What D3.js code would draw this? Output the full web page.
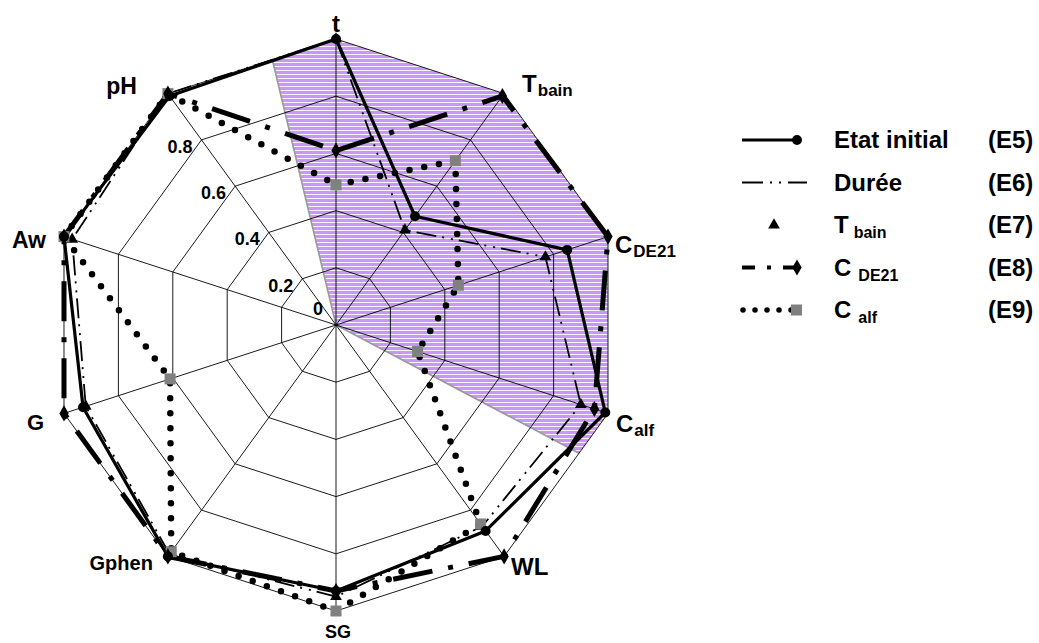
<!DOCTYPE html>
<html><head><meta charset="utf-8">
<script src="https://cdn.jsdelivr.net/npm/d3@7"></script>
<style>
html,body{margin:0;padding:0;background:#fff;}
text{font-family:"Liberation Sans",Arial,Helvetica,sans-serif;font-weight:bold;fill:#000;}
</style></head>
<body>
<svg id="chart" width="1039" height="643"></svg>
<script>
// ---------- data ----------
const axisMain = ["t","T","C","C","WL","SG","Gphen","G","Aw","pH"];
const axisSub  = ["","bain","DE21","alf","","","","","",""];
const ticks = [0, 0.2, 0.4, 0.6, 0.8];
const tickLabels = ["0","0.2","0.4","0.6","0.8"];
const rings = [0.2, 0.4, 0.6, 0.8, 1.0];

const e5 = [1.00, 0.47, 0.85, 0.99, 0.89, 0.93, 1.00, 0.93, 1.00, 0.99]; // Etat initial
const e6 = [1.00, 0.41, 0.77, 0.90, 0.87, 0.95, 0.99, 0.92, 0.97, 1.00]; // Durée
const e7 = [1.00, 0.41, 0.77, 0.90, 0.87, 0.95, 0.99, 0.92, 0.97, 1.00]; // T bain
const e8 = [0.61, 0.99, 1.00, 0.95, 1.00, 0.93, 1.00, 1.00, 1.00, 1.00]; // C DE21
const e9 = [0.49, 0.71, 0.45, 0.30, 0.86, 1.00, 0.98, 0.61, 1.00, 1.00]; // C alf

const legendMain = ["Etat initial","Durée","T","C","C"];
const legendSub  = ["","","bain","DE21","alf"];
const legendCode = ["(E5)","(E6)","(E7)","(E8)","(E9)"];

// shaded sector (in degrees, clockwise from the t axis)
const shadeFrom = -13.5, shadeTo = 117.8;

// ---------- layout ----------
const cx = 336, cy = 325, R = 286;
const n = axisMain.length;
const svg = d3.select("#chart");
const g = svg.append("g").attr("transform", `translate(${cx},${cy})`);

const ang = d3.scaleLinear().domain([0, n]).range([0, 2*Math.PI]);
const rad = d3.scaleLinear().domain([0, 1]).range([0, R]);
const pt = (i, v) => [rad(v)*Math.sin(ang(i)), -rad(v)*Math.cos(ang(i))];

const defs = svg.append("defs");
const pat = defs.append("pattern").attr("id","stripes").attr("width",8).attr("height",4)
  .attr("patternUnits","userSpaceOnUse").attr("patternTransform",`translate(0,${cy})`);
pat.append("rect").attr("width",8).attr("height",4).attr("fill","#C996FC");
pat.append("rect").attr("width",8).attr("height",0.9).attr("fill","#ffffff");

// shaded region
function edgePt(deg) {
  const step = 360/n;
  const k = Math.floor(deg/step);
  const mid = (k + 0.5)*step;
  const rr = R*Math.cos(Math.PI/n)/Math.cos((deg-mid)*Math.PI/180);
  const a = deg*Math.PI/180;
  return [rr*Math.sin(a), -rr*Math.cos(a)];
}
const shadePts = [[0,0], edgePt(shadeFrom)];
for (let i = Math.ceil(shadeFrom/36); i <= Math.floor(shadeTo/36); i++) shadePts.push(pt(i,1));
shadePts.push(edgePt(shadeTo));
g.append("path").attr("d", "M" + shadePts.map(p=>p.join(",")).join("L") + "Z")
  .attr("fill","url(#stripes)").attr("stroke","none");
// grey edges
g.append("path").attr("d", `M${edgePt(shadeFrom)}L0,0L${edgePt(shadeTo)}`)
  .attr("fill","none").attr("stroke","#999").attr("stroke-width",1.6);

// grid
const ringLine = d3.lineRadial().angle((d,i)=>ang(i)).radius(d=>rad(d)).curve(d3.curveLinearClosed);
rings.forEach(v => {
  g.append("path").attr("d", ringLine(d3.range(n).map(()=>v)))
    .attr("fill","none").attr("stroke","#000").attr("stroke-width",0.9);
});
d3.range(n).forEach(i => {
  const p = pt(i,1);
  g.append("line").attr("x1",0).attr("y1",0).attr("x2",p[0]).attr("y2",p[1])
    .attr("stroke","#000").attr("stroke-width",0.9);
});

// tick labels along pH axis
ticks.forEach((v,k) => {
  const p = pt(9, v);
  const isZero = v === 0;
  g.append("text").attr("x", isZero ? -13 : p[0]-9).attr("y", isZero ? -10 : p[1]+13)
    .attr("text-anchor","end").attr("font-size",18).text(tickLabels[k]);
});

// series
const line = d3.lineRadial().angle((d,i)=>ang(i)).radius(d=>rad(d)).curve(d3.curveLinearClosed);
g.append("path").attr("d", line(e9)).attr("fill","none").attr("stroke","#000")
  .attr("stroke-width",6.5).attr("stroke-linecap","round").attr("stroke-dasharray","0,15");
g.append("path").attr("d", line(e6)).attr("fill","none").attr("stroke","#000")
  .attr("stroke-width",1.8).attr("stroke-dasharray","20,6,2,7,2,6");
g.append("path").attr("d", line(e8)).attr("fill","none").attr("stroke","#000")
  .attr("stroke-width",5).attr("stroke-dasharray","40,16,5,16");
g.append("path").attr("d", line(e5)).attr("fill","none").attr("stroke","#000")
  .attr("stroke-width",3.2).attr("stroke-linejoin","round");

// markers
const tri = d3.symbol().type(d3.symbolTriangle).size(60);
const dia = d3.symbol().type(d3.symbolDiamond).size(75);
e7.forEach((v,i)=>{ const p=pt(i,v);
  g.append("path").attr("d",tri()).attr("transform",`translate(${p[0]},${p[1]})`).attr("fill","#000"); });
e9.forEach((v,i)=>{ const p=pt(i,v);
  g.append("rect").attr("x",p[0]-5.5).attr("y",p[1]-5.5).attr("width",11).attr("height",11).attr("fill","#808080"); });
e8.forEach((v,i)=>{ const p=pt(i,v);
  g.append("path").attr("d",dia()).attr("transform",`translate(${p[0]},${p[1]})`).attr("fill","#000"); });
e5.forEach((v,i)=>{ const p=pt(i,v);
  g.append("circle").attr("cx",p[0]).attr("cy",p[1]).attr("r",5).attr("fill","#000"); });

// axis labels
const labelLayout = [
  {dx:0, dy:-7, anchor:"middle", fs:24},
  {dx:18, dy:-2, anchor:"start", fs:24},
  {dx:7, dy:16, anchor:"start", fs:24},
  {dx:8, dy:19, anchor:"start", fs:24},
  {dx:7, dy:19, anchor:"start", fs:24},
  {dx:2, dy:27, anchor:"middle", fs:18},
  {dx:-15, dy:14, anchor:"end", fs:20},
  {dx:-20, dy:17, anchor:"end", fs:22},
  {dx:-18, dy:11, anchor:"end", fs:23},
  {dx:-31, dy:0, anchor:"end", fs:23}
];
axisMain.forEach((m,i)=>{
  const p = pt(i,1), L = labelLayout[i];
  const t = g.append("text").attr("x",p[0]+L.dx).attr("y",p[1]+L.dy)
    .attr("text-anchor",L.anchor).attr("font-size",L.fs);
  t.append("tspan").text(m);
  if (axisSub[i]) t.append("tspan").attr("font-size",17).attr("dy",4).attr("dx",1).text(axisSub[i]);
});

// legend
const lg = svg.append("g");
const ly0 = 140, lstep = 42.5;
legendMain.forEach((m,k)=>{
  const y = ly0 + k*lstep;
  const t = lg.append("text").attr("x",834).attr("y",y+8).attr("font-size",24);
  t.append("tspan").text(m);
  if (legendSub[k]) t.append("tspan").attr("font-size",16).attr("dy",5).attr("dx",legendSub[k]==="bain"?5:7).text(legendSub[k]);
  lg.append("text").attr("x",988).attr("y",y+8).attr("font-size",24).text(legendCode[k]);
});
// E5
lg.append("line").attr("x1",742).attr("x2",797).attr("y1",ly0).attr("y2",ly0).attr("stroke","#000").attr("stroke-width",3.2);
lg.append("circle").attr("cx",797).attr("cy",ly0).attr("r",5).attr("fill","#000");
// E6
lg.append("line").attr("x1",742).attr("x2",807).attr("y1",ly0+lstep).attr("y2",ly0+lstep)
  .attr("stroke","#000").attr("stroke-width",2).attr("stroke-dasharray","21,7,2,7,2,7");
// E7
lg.append("path").attr("d",tri()).attr("transform",`translate(774,${ly0+2*lstep})`).attr("fill","#000");
// E8
lg.append("line").attr("x1",742).attr("x2",797).attr("y1",ly0+3*lstep).attr("y2",ly0+3*lstep)
  .attr("stroke","#000").attr("stroke-width",4).attr("stroke-dasharray","13,12,4,12,16");
lg.append("path").attr("d",dia()).attr("transform",`translate(797,${ly0+3*lstep})`).attr("fill","#000");
// E9
lg.append("line").attr("x1",743).attr("x2",792).attr("y1",ly0+4*lstep).attr("y2",ly0+4*lstep)
  .attr("stroke","#000").attr("stroke-width",5.5).attr("stroke-linecap","round").attr("stroke-dasharray","0,12");
lg.append("rect").attr("x",791).attr("y",ly0+4*lstep-5.5).attr("width",11).attr("height",11).attr("fill","#808080");
</script>
</body></html>
